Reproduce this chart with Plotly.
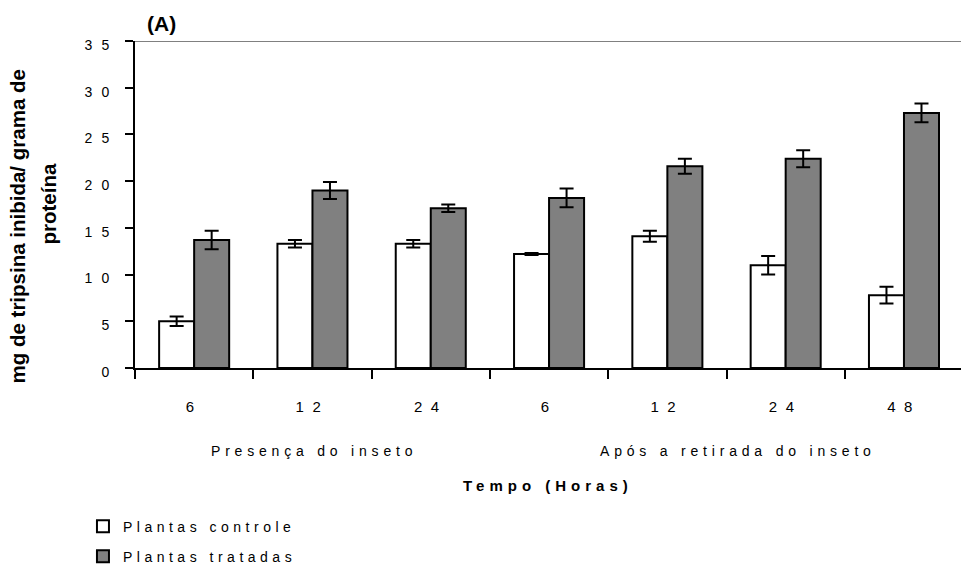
import plotly.graph_objects as go

# Trypsin inhibition over time, control vs treated plants
hours = ["6", "12", "24", "6", "12", "24", "48"]
phases = ["Presença do inseto", "Após a retirada do inseto"]
phase_sizes = [3, 4]

controle = [5.0, 13.3, 13.3, 12.2, 14.1, 11.0, 7.8]
controle_err = [0.5, 0.4, 0.4, 0.1, 0.6, 1.0, 0.9]
tratadas = [13.7, 19.0, 17.1, 18.2, 21.6, 22.4, 27.3]
tratadas_err = [1.0, 0.9, 0.4, 1.0, 0.8, 0.9, 1.0]

y_ticks = [0, 5, 10, 15, 20, 25, 30, 35]

FONT = "Arial, 'Liberation Sans', sans-serif"


def spaced(text, px):
    return f'<span style="letter-spacing:{px}px">{text}</span>'


xpos = list(range(len(hours)))

fig = go.Figure()
fig.add_trace(go.Bar(
    x=xpos, y=controle, name=spaced("Plantas controle", 4.5),
    legendgroup="c",
    marker=dict(color="white", line=dict(color="black", width=2)),
    error_y=dict(type="data", array=controle_err, color="black",
                 thickness=2, width=7),
))
fig.add_trace(go.Bar(
    x=xpos, y=tratadas, name=spaced("Plantas tratadas", 4.5),
    legendgroup="t",
    marker=dict(color="#808080", line=dict(color="black", width=2)),
    error_y=dict(type="data", array=tratadas_err, color="black",
                 thickness=2, width=7),
))

# boundaries between categories carry the tick marks
boundaries = [i - 0.5 for i in range(len(hours) + 1)]

fig.update_layout(
    width=961, height=573,
    margin=dict(l=135, r=0, t=41, b=200),
    paper_bgcolor="white", plot_bgcolor="white",
    font=dict(family=FONT, color="black"),
    barmode="group", bargap=0.408, bargroupgap=0,
    showlegend=True,
    legend=dict(
        x=-0.063, y=-0.436, xanchor="left", yanchor="top",
        orientation="v", traceorder="grouped", tracegroupgap=9,
        bgcolor="rgba(0,0,0,0)", font=dict(size=14, family=FONT),
    ),
    xaxis=dict(
        range=[-0.5, 6.482], tickmode="array", tickvals=xpos,
        ticktext=[spaced(h, 8.5) for h in hours],
        tickfont=dict(size=15, family=FONT), ticks="outside", ticklen=9,
        tickcolor="rgba(0,0,0,0)", ticklabelstandoff=15,
        minor=dict(tickmode="array", tickvals=boundaries, ticks="outside",
                   ticklen=9, tickwidth=2, tickcolor="black"),
        showline=True, linecolor="black", linewidth=2,
        showgrid=False, zeroline=False, fixedrange=True,
    ),
    yaxis=dict(
        range=[0, 35], tickmode="array", tickvals=y_ticks,
        ticktext=[spaced(str(v), 9) for v in y_ticks],
        tickfont=dict(size=14, family=FONT), ticks="outside", ticklen=8,
        tickwidth=2, tickcolor="black", ticklabelstandoff=4,
        ticklabelshift=4,
        showline=True, linecolor="black", linewidth=2,
        showgrid=False, zeroline=False, fixedrange=True,
    ),
)

# gray frame line along the top of the plot
fig.add_shape(type="line", xref="paper", x0=0, x1=1, yref="y", y0=35, y1=35,
              line=dict(color="#808080", width=2))

# phase labels under the hour ticks
start = 0
for label, n in zip(phases, phase_sizes):
    centre = start + (n - 1) / 2
    fig.add_annotation(x=centre, xref="x", y=-0.255, yref="paper",
                       text=spaced(label, 4.8), showarrow=False,
                       xanchor="center", yanchor="middle",
                       xshift=2 if n == 3 else 11,
                       font=dict(size=14, family=FONT))
    start += n

# axis titles and panel letter
fig.add_annotation(x=0.5, xref="paper", y=-0.36, yref="paper",
                   text=spaced("<b>Tempo (Horas)</b>", 5), showarrow=False,
                   xanchor="center", yanchor="middle",
                   font=dict(size=15, family=FONT))
fig.add_annotation(x=0, xref="paper", y=0.5, yref="paper", xshift=-118,
                   yshift=-22,
                   text="<b>mg de tripsina inibida/ grama de</b>",
                   textangle=-90, showarrow=False,
                   xanchor="center", yanchor="middle",
                   font=dict(size=20.5, family=FONT))
fig.add_annotation(x=0, xref="paper", y=0.5, yref="paper", xshift=-87,
                   text="<b>proteína</b>", textangle=-90, showarrow=False,
                   xanchor="center", yanchor="middle",
                   font=dict(size=20.5, family=FONT))
fig.add_annotation(x=0, xref="paper", y=1.054, yref="paper", xshift=10,
                   text="<b>(A)</b>", showarrow=False,
                   xanchor="left", yanchor="middle",
                   font=dict(size=21, family=FONT))

fig.write_html("out.html", config={"displayModeBar": False})
